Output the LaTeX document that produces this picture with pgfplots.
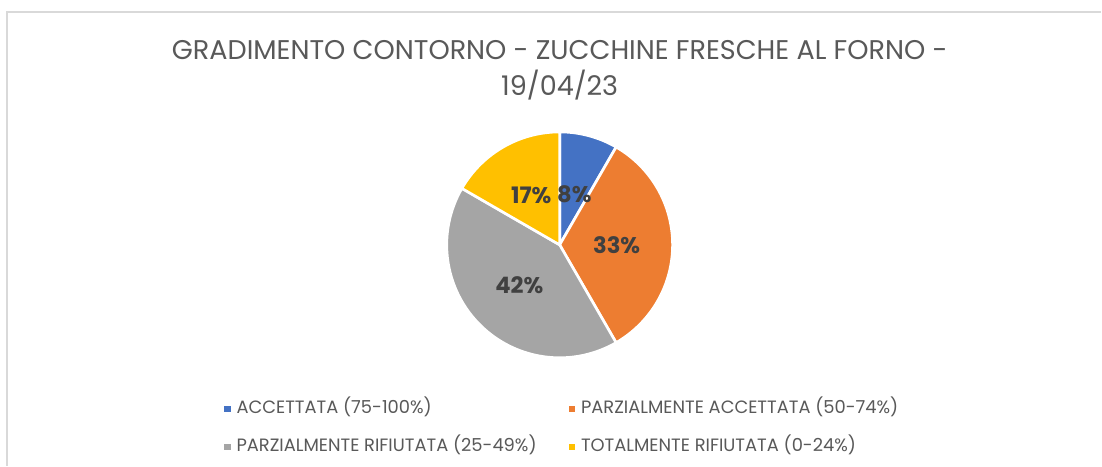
\documentclass[border=0pt]{standalone}
\usepackage{pgfplots}
\pgfplotsset{compat=1.18}
\usepackage{pgfplotstable}
\usepackage{fontspec}
\setmainfont{Poppins}
\definecolor{cA}{HTML}{4472C4}
\definecolor{cB}{HTML}{ED7D31}
\definecolor{cC}{HTML}{A5A5A5}
\definecolor{cD}{HTML}{FFC000}
\definecolor{titlegray}{HTML}{595959}
\definecolor{labelgray}{HTML}{404040}
\definecolor{framegray}{HTML}{D9D9D9}

\pgfplotstableread{
count
1
4
5
2
}\piedata

\begin{document}
\begin{tikzpicture}
\pgfplotstablegetelem{0}{count}\of\piedata \pgfmathsetmacro\nA{\pgfplotsretval}
\pgfplotstablegetelem{1}{count}\of\piedata \pgfmathsetmacro\nB{\pgfplotsretval}
\pgfplotstablegetelem{2}{count}\of\piedata \pgfmathsetmacro\nC{\pgfplotsretval}
\pgfplotstablegetelem{3}{count}\of\piedata \pgfmathsetmacro\nD{\pgfplotsretval}
\pgfmathsetmacro\tot{\nA+\nB+\nC+\nD}
\pgfmathsetmacro\aA{90}
\pgfmathsetmacro\aB{\aA-360*\nA/\tot}
\pgfmathsetmacro\aC{\aB-360*\nB/\tot}
\pgfmathsetmacro\aD{\aC-360*\nC/\tot}
\pgfmathsetmacro\aE{\aD-360*\nD/\tot}
\pgfmathtruncatemacro\pA{round(100*\nA/\tot)}
\pgfmathtruncatemacro\pB{round(100*\nB/\tot)}
\pgfmathtruncatemacro\pC{round(100*\nC/\tot)}
\pgfmathtruncatemacro\pD{round(100*\nD/\tot)}
\pgfmathsetmacro\mA{(\aA+\aB)/2}
\pgfmathsetmacro\mB{(\aB+\aC)/2}
\pgfmathsetmacro\mC{(\aC+\aD)/2}
\pgfmathsetmacro\mD{(\aD+\aE)/2}
\def\cx{560}\def\cy{245}\def\rr{113}\def\lr{57}
\begin{axis}[
  width=826.5pt, height=349.5pt, scale only axis,
  xmin=0, xmax=1102, ymin=0, ymax=466, y dir=reverse,
  hide axis, clip=false,
  legend columns=2,
  legend cell align=left,
  legend image code/.code={\fill[#1, draw=none] (0pt,-2.4pt) rectangle (4.8pt,2.4pt);},
  legend style={
    at={(axis cs:224,428)}, anchor=west,
    draw=none, fill=none, inner sep=0pt,
    font=\fontsize{13.4}{15}\selectfont, text=titlegray,
    nodes={inner sep=0pt, text height=10pt, text depth=3pt},
    row sep=15.5pt,
    /tikz/every odd column/.append style={column sep=4.5pt},
    /tikz/every even column/.append style={column sep=24pt},
  },
]
\fill[white] (axis cs:0,0) rectangle (axis cs:1102,466);
\draw[framegray, line width=1pt] (axis cs:7,466) -- (axis cs:7,12) -- (axis cs:1102,12);

\addplot[fill=cA, draw=white, line width=2pt, domain=\aB:\aA, samples=40, variable=\t]
  ({\cx+\rr*cos(\t)},{\cy-\rr*sin(\t)}) -- (axis cs:\cx,\cy) -- cycle;
\addlegendentry{ACCETTATA (75-100\%)}
\addplot[fill=cB, draw=white, line width=2pt, domain=\aC:\aB, samples=80, variable=\t]
  ({\cx+\rr*cos(\t)},{\cy-\rr*sin(\t)}) -- (axis cs:\cx,\cy) -- cycle;
\addlegendentry{PARZIALMENTE ACCETTATA (50-74\%)}
\addplot[fill=cC, draw=white, line width=2pt, domain=\aD:\aC, samples=90, variable=\t]
  ({\cx+\rr*cos(\t)},{\cy-\rr*sin(\t)}) -- (axis cs:\cx,\cy) -- cycle;
\addlegendentry{PARZIALMENTE RIFIUTATA (25-49\%)}
\addplot[fill=cD, draw=white, line width=2pt, domain=\aE:\aD, samples=40, variable=\t]
  ({\cx+\rr*cos(\t)},{\cy-\rr*sin(\t)}) -- (axis cs:\cx,\cy) -- cycle;
\addlegendentry{TOTALMENTE RIFIUTATA (0-24\%)}

\node[text=titlegray, font=\fontsize{20.3}{24}\selectfont] at (axis cs:560,50) {GRADIMENTO CONTORNO - ZUCCHINE FRESCHE AL FORNO -};
\node[text=titlegray, font=\fontsize{20.3}{24}\selectfont] at (axis cs:560,85) {19/04/23};

\node[text=labelgray, font=\fontsize{17}{19}\selectfont\bfseries] at (axis cs:{\cx+\lr*cos(\mA)},{\cy-\lr*sin(\mA)+4}) {\pA\%};
\node[text=labelgray, font=\fontsize{17}{19}\selectfont\bfseries] at (axis cs:{\cx+\lr*cos(\mB)},{\cy-\lr*sin(\mB)}) {\pB\%};
\node[text=labelgray, font=\fontsize{17}{19}\selectfont\bfseries] at (axis cs:{\cx+\lr*cos(\mC)},{\cy-\lr*sin(\mC)}) {\pC\%};
\node[text=labelgray, font=\fontsize{17}{19}\selectfont\bfseries] at (axis cs:{\cx+\lr*cos(\mD)},{\cy-\lr*sin(\mD)}) {\pD\%};
\end{axis}
\end{tikzpicture}
\end{document}
